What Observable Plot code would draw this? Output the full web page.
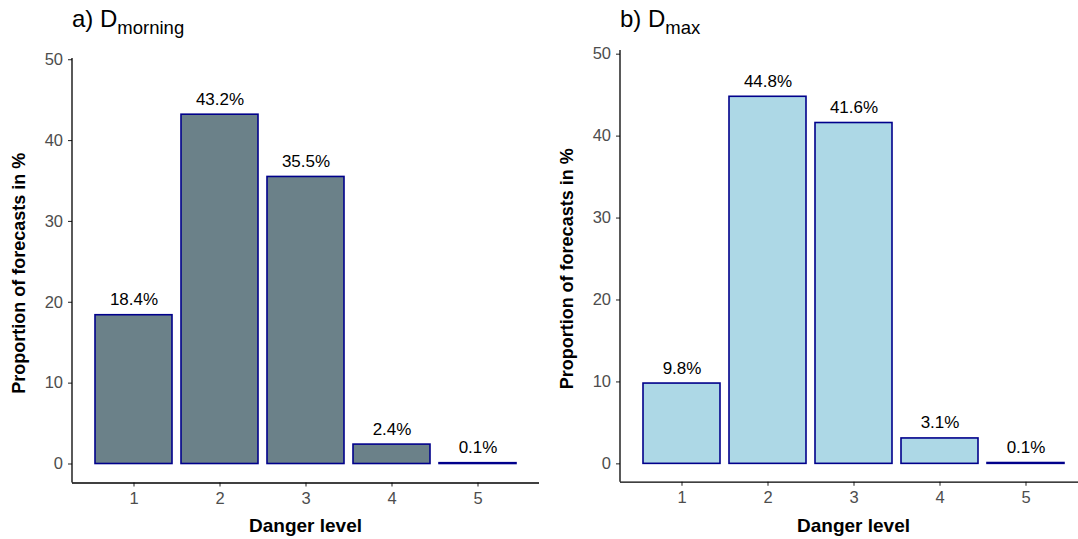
<!DOCTYPE html>
<html>
<head>
<meta charset="utf-8">
<script src="https://cdn.jsdelivr.net/npm/d3@7"></script>
<script src="https://cdn.jsdelivr.net/npm/@observablehq/plot@0.6"></script>
<style>
  html, body { margin: 0; padding: 0; background: #fff; }
  body { width: 1078px; height: 539px; position: relative; overflow: hidden; font-family: "Liberation Sans", Arial, sans-serif; }
  .panel { position: absolute; top: 0; width: 539px; height: 539px; }
  .title { position: absolute; top: 5px; font-size: 24px; color: #000; white-space: nowrap; z-index: 2; }
  .title sub { font-size: 18.5px; vertical-align: -7px; line-height: 0; }
  svg { position: absolute; top: 0; left: 0; }
</style>
</head>
<body>
<div class="panel" id="pa" style="left:0px"><div class="title" style="left:72px">a) D<sub>morning</sub></div></div>
<div class="panel" id="pb" style="left:539px"><div class="title" style="left:81px">b) D<sub>max</sub></div></div>
<script>
const dangerLevels = ["1", "2", "3", "4", "5"];
const morningValues = [18.4, 43.2, 35.5, 2.4, 0.1];
const maxValues = [9.8, 44.8, 41.6, 3.1, 0.1];
const yTicks = [0, 10, 20, 30, 40, 50];

function panel(values, fill, opts) {
  const data = dangerLevels.map((d, i) => ({level: d, value: values[i], label: values[i].toFixed(1) + "%"}));
  const plot = Plot.plot({
    width: 539,
    height: 539,
    marginLeft: opts.marginLeft,
    marginRight: 0,
    marginTop: opts.marginTop,
    marginBottom: opts.marginBottom,
    style: {fontFamily: "'Liberation Sans', Arial, sans-serif", fontSize: "15px", background: "transparent"},
    x: {domain: dangerLevels, range: opts.xRange, paddingInner: 0.1, paddingOuter: 0, label: null},
    y: {domain: opts.yDomain, label: null},
    marks: [
      Plot.barY(data, {x: "level", y: "value", fill: fill, stroke: "#00008B", strokeWidth: 1.6}),
      Plot.text(data, {x: "level", y: "value", text: "label", dy: -10, lineAnchor: "bottom", fontSize: 17, fill: "#000"}),
      Plot.axisY(yTicks, {tickSize: 4, stroke: "#333", strokeWidth: 1.1, tickFormat: () => "", label: null}),
      Plot.axisX({tickSize: 4, stroke: "#333", strokeWidth: 1.1, tickFormat: () => "", label: null}),
      Plot.text(yTicks, {y: d => d, text: d => String(d), frameAnchor: "left", textAnchor: "end", dx: -9.5, fontSize: 16.5, fill: "#4D4D4D"}),
      Plot.text(dangerLevels, {x: d => d, text: d => d, frameAnchor: "bottom", lineAnchor: "top", dy: 9, fontSize: 16.5, fill: "#4D4D4D"}),
      Plot.ruleY([opts.yDomain[0]], {stroke: "#000", strokeWidth: 1.3})
    ]
  });
  const svg = d3.select(plot);
  const ys = plot.scale("y");
  const xs = plot.scale("x");
  const x0 = opts.marginLeft;
  svg.append("line")
    .attr("x1", x0).attr("x2", x0)
    .attr("y1", ys.apply(opts.yDomain[1])).attr("y2", ys.apply(opts.yDomain[0]))
    .attr("stroke", "#000").attr("stroke-width", 1.3);
  const frameTop = ys.apply(opts.yDomain[1]);
  const frameBottom = ys.apply(opts.yDomain[0]);
  const xCenter = (xs.apply("1") + xs.apply("5") + xs.bandwidth) / 2;
  svg.append("text")
    .attr("x", xCenter).attr("y", 532)
    .attr("text-anchor", "middle")
    .attr("font-size", 19).attr("font-weight", "bold").attr("fill", "#000")
    .text("Danger level");
  svg.append("text")
    .attr("transform", `translate(${opts.yTitleX},${(frameTop + frameBottom) / 2 + 3}) rotate(-90)`)
    .attr("text-anchor", "middle")
    .attr("font-size", 18).attr("font-weight", "bold").attr("fill", "#000")
    .text("Proportion of forecasts in %");
  return plot;
}

document.getElementById("pa").appendChild(panel(morningValues, "#6B8189", {
  marginLeft: 72, marginTop: 58, marginBottom: 539 - 482.5, xRange: [93, 519], yDomain: [-2.35, 50.15], yTitleX: 25
}));
document.getElementById("pb").appendChild(panel(maxValues, "#ADD8E6", {
  marginLeft: 81, marginTop: 50, marginBottom: 539 - 481.7, xRange: [102, 528], yDomain: [-2.24, 50.45], yTitleX: 34
}));
</script>
</body>
</html>
